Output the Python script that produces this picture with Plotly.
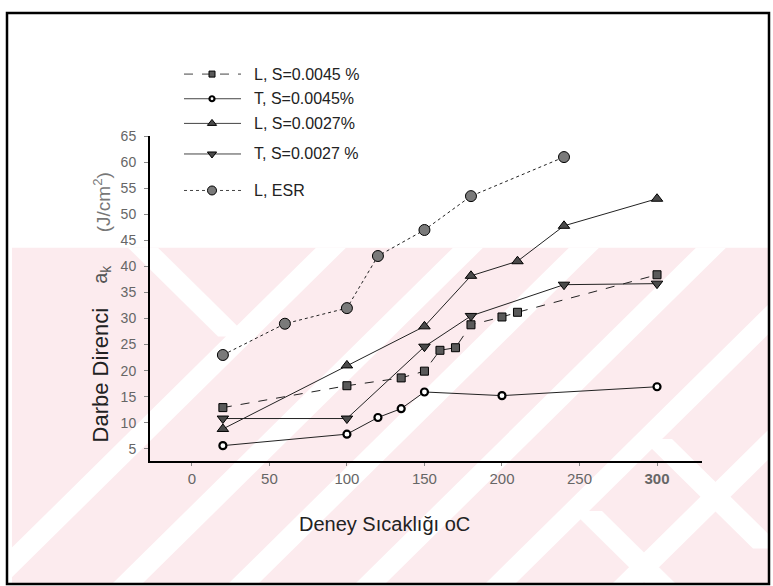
import plotly.graph_objects as go

W, H = 773, 586

# Impact strength a_k (J/cm^2) versus test temperature (°C)
temp_l45 = [20, 100, 135, 150, 160, 170, 180, 200, 210, 300]
ak_l45 = [12.9, 17.1, 18.6, 19.9, 23.9, 24.4, 28.8, 30.3, 31.2, 38.4]

temp_t45 = [20, 100, 120, 135, 150, 200, 300]
ak_t45 = [5.6, 7.8, 11.0, 12.7, 15.9, 15.2, 16.9]

temp_l27 = [20, 100, 150, 180, 210, 240, 300]
ak_l27 = [8.8, 21.0, 28.5, 38.2, 41.0, 47.8, 53.0]

temp_t27 = [20, 100, 150, 180, 240, 300]
ak_t27 = [10.8, 10.8, 24.6, 30.5, 36.5, 36.7]

temp_esr = [20, 60, 100, 120, 150, 180, 240]
ak_esr = [23.0, 29.0, 32.0, 42.0, 47.0, 53.5, 61.0]

series_names = ["L, S=0.0045 %", "T, S=0.0045%", "L, S=0.0027%", "T, S=0.0027 %", "L, ESR"]
x_ticks = [0, 50, 100, 150, 200, 250, 300]
x_ticktext = ["0", "50", "100", "150", "200", "250", "<b>300</b>"]
y_ticks = list(range(5, 70, 5))

INK = "#222222"
styles = [
    dict(symbol="square", size=8, color="#5a5a5a", lw=1, dash="dash"),
    dict(symbol="circle", size=7, color="white", lw=2.2, dash="solid"),
    dict(symbol="triangle-up", size=10, color="#4a4a4a", lw=1, dash="solid"),
    dict(symbol="triangle-down", size=10, color="#4a4a4a", lw=1, dash="solid"),
    dict(symbol="circle", size=11, color="#7a7a7a", lw=1, dash="dot"),
]
data = [(temp_l45, ak_l45), (temp_t45, ak_t45), (temp_l27, ak_l27),
        (temp_t27, ak_t27), (temp_esr, ak_esr)]

fig = go.Figure()
for (xs, ys), name, st in zip(data, series_names, styles):
    fig.add_trace(go.Scatter(
        x=xs, y=ys, name=name, mode="lines+markers",
        line=dict(color=INK, width=1, dash=st["dash"]),
        marker=dict(symbol=st["symbol"], size=st["size"], color=st["color"],
                    line=dict(color="black", width=st["lw"])),
        showlegend=False, xaxis="x", yaxis="y"))


def px(x):
    return x / W


def py(y):
    return 1 - y / H


# hand-built key in the upper left, drawn on a full-page pixel axis
key_rows = [67, 92, 117, 148, 185]
key_x0, key_xm, key_x1, key_text_x = 184, 212, 241, 252
for row, name, st in zip(key_rows, series_names, styles):
    fig.add_trace(go.Scatter(
        x=[key_x0, key_x1], y=[row, row], mode="lines",
        line=dict(color="#444", width=1, dash=st["dash"]),
        showlegend=False, hoverinfo="skip", xaxis="x2", yaxis="y2"))
    fig.add_trace(go.Scatter(
        x=[key_xm], y=[row], mode="markers",
        marker=dict(symbol=st["symbol"], size=st["size"] - 2, color=st["color"],
                    line=dict(color="black", width=st["lw"])),
        showlegend=False, hoverinfo="skip", xaxis="x2", yaxis="y2"))

annotations = []
for row, name in zip(key_rows, series_names):
    annotations.append(dict(
        x=px(key_text_x), y=py(row), xref="paper", yref="paper",
        text=name, showarrow=False, xanchor="left", yanchor="middle",
        font=dict(family="Liberation Sans", size=16, color=INK)))

annotations.append(dict(
    x=px(384), y=py(536), xref="paper", yref="paper",
    text="Deney Sıcaklığı oC", showarrow=False,
    font=dict(family="Liberation Sans", size=20, color=INK)))
# y-axis title, set in three pieces along the left margin
annotations.append(dict(
    x=px(86), y=py(372), xref="paper", yref="paper", textangle=-90,
    text="Darbe Direnci", showarrow=False,
    font=dict(family="Liberation Sans", size=22, color=INK)))
annotations.append(dict(
    x=px(87), y=py(270), xref="paper", yref="paper", textangle=-90,
    text="a<sub>k</sub>", showarrow=False,
    font=dict(family="Liberation Sans", size=20, color="#555")))
annotations.append(dict(
    x=px(88), y=py(197), xref="paper", yref="paper", textangle=-90,
    text="(J/cm<sup>2</sup>)", showarrow=False,
    font=dict(family="Liberation Sans", size=19, color="#777")))

# pale pink background motif (diagonal white bands on pink) and outer frame
PINK = "#fcebee"
TOP, BOT = 243, 584
shapes = [dict(type="rect", xref="paper", yref="paper", layer="below",
               x0=px(12), x1=px(768), y0=py(BOT), y1=py(TOP),
               fillcolor=PINK, line=dict(width=0))]


def band(xa, ya, xb, yb, half=15):
    # a white band between two page points, given as its centre line
    path = (f"M {px(xa - half)} {py(ya)} L {px(xa + half)} {py(ya)} "
            f"L {px(xb + half)} {py(yb)} L {px(xb - half)} {py(yb)} Z")
    return dict(type="path", path=path, xref="paper", yref="paper",
                layer="below", fillcolor="white", line=dict(width=0))


# rising bands, placed by where they cross the x-axis line (y = 459)
for xc in [115, 252, 368, 495, 625, 752]:
    xa = xc - (BOT - 459)
    xb = xc + (459 - TOP)
    shapes.append(band(xa, BOT, xb, TOP))
# falling arms forming the chevrons
shapes.append(band(143, TOP, 233, 333))
shapes.append(band(657, 437, 768, 548))
shapes.append(band(587, 510, 661, BOT))

shapes.append(dict(type="rect", xref="paper", yref="paper",
                   x0=px(7), x1=px(769), y0=py(584), y1=py(5),
                   line=dict(color="black", width=2.5)))

fig.update_layout(
    width=W, height=H,
    margin=dict(l=0, r=0, t=0, b=0),
    paper_bgcolor="white", plot_bgcolor="rgba(0,0,0,0)",
    xaxis=dict(domain=[150 / W, 702 / W], range=[-27, 329], anchor="y",
               tickvals=x_ticks, ticktext=x_ticktext,
               showline=True, linecolor="black", linewidth=2,
               ticks="outside", ticklen=3, tickcolor="#888",
               showgrid=False, zeroline=False,
               tickfont=dict(family="Liberation Sans", size=15, color="#666")),
    yaxis=dict(domain=[(H - 459) / H, (H - 130) / H], range=[2.7, 65], anchor="x",
               tickvals=y_ticks, showline=True, linecolor="black", linewidth=2,
               ticks="outside", ticklen=4, tickcolor="#888", ticklabelstandoff=5,
               showgrid=False, zeroline=False,
               tickfont=dict(family="Liberation Sans", size=14, color="#666")),
    xaxis2=dict(domain=[0, 1], range=[0, W], anchor="y2", visible=False,
                fixedrange=True),
    yaxis2=dict(domain=[0, 1], range=[H, 0], anchor="x2", visible=False,
                fixedrange=True),
    shapes=shapes,
    annotations=annotations,
    showlegend=False,
)

fig.write_html("out.html")
